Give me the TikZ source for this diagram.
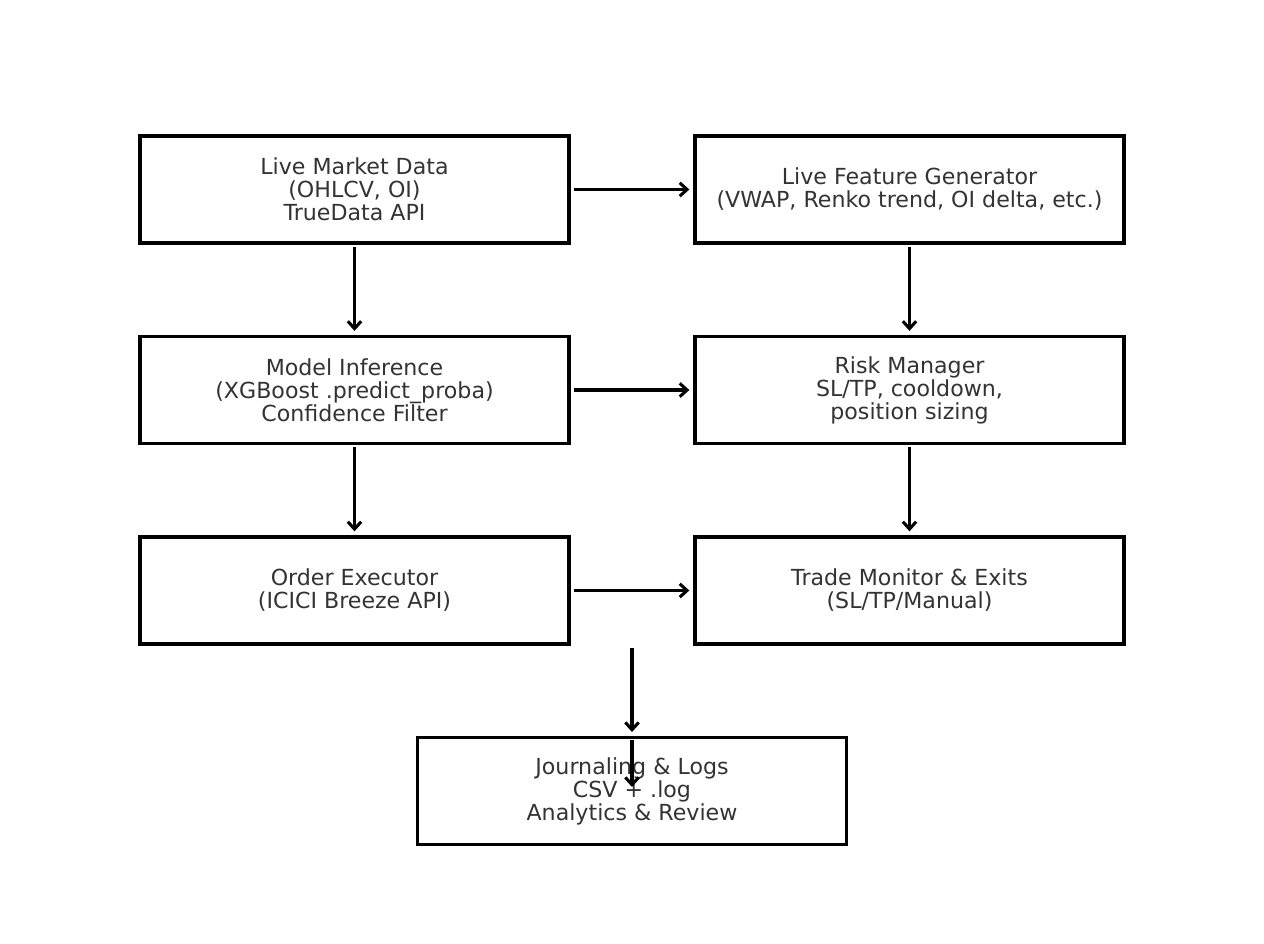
\documentclass[tikz,border=0pt]{standalone}
\usepackage{fontspec}
\setmainfont{DejaVu Sans}
\usetikzlibrary{arrows.meta}
\definecolor{txt}{HTML}{333333}
\begin{document}
\begin{tikzpicture}[x=0.75pt,y=-0.75pt,
  blk/.style={draw=black,line width=2.5pt,rectangle,minimum width=429pt*0.75,minimum height=107pt*0.75,
    inner sep=0pt,align=center,text=txt,font=\fontsize{16.6pt}{17.3pt}\selectfont},
  flow/.style={line width=2.3pt,-{Straight Barb[length=5.5pt,width=10pt,line width=2.3pt]}}]
\useasboundingbox (0,0) rectangle (1264,944);
\node[blk] (md) at (354.5,189.5) {Live Market Data\\(OHLCV, OI)\\TrueData API};
\node[blk] (fg) at (909.5,189.5) {Live Feature Generator\\(VWAP, Renko trend, OI delta, etc.)};
\node[blk] (mi) at (354.5,390) {Model Inference\\(XGBoost .predict\_proba)\\Confidence Filter};
\node[blk] (rm) at (909.5,390) {Risk Manager\\SL/TP, cooldown,\\position sizing};
\node[blk] (oe) at (354.5,590.5) {Order Executor\\(ICICI Breeze API)};
\node[blk] (tm) at (909.5,590.5) {Trade Monitor \& Exits\\(SL/TP/Manual)};
\node[blk] (jl) at (632,791) {Journaling \& Logs\\CSV + .log\\Analytics \& Review};
\coordinate (a1s) at (632,648);
\coordinate (a1e) at (632,732);
\coordinate (a2s) at (632,740);
\coordinate (a2e) at (632,787);
\draw[flow,shorten <=2.2pt,shorten >=3pt] (md.east) -- (fg.west);
\draw[flow,shorten <=2.2pt,shorten >=3pt] (mi.east) -- (rm.west);
\draw[flow,shorten <=2.2pt,shorten >=3pt] (oe.east) -- (tm.west);
\draw[flow,shorten <=1.5pt,shorten >=3pt] (md.south) -- (mi.north);
\draw[flow,shorten <=1.5pt,shorten >=3pt] (mi.south) -- (oe.north);
\draw[flow,shorten <=1.5pt,shorten >=3pt] (fg.south) -- (rm.north);
\draw[flow,shorten <=1.5pt,shorten >=3pt] (rm.south) -- (tm.north);
\draw[flow] (a1s) -- (a1e);
\draw[flow] (a2s) -- (a2e);
\end{tikzpicture}
\end{document}
